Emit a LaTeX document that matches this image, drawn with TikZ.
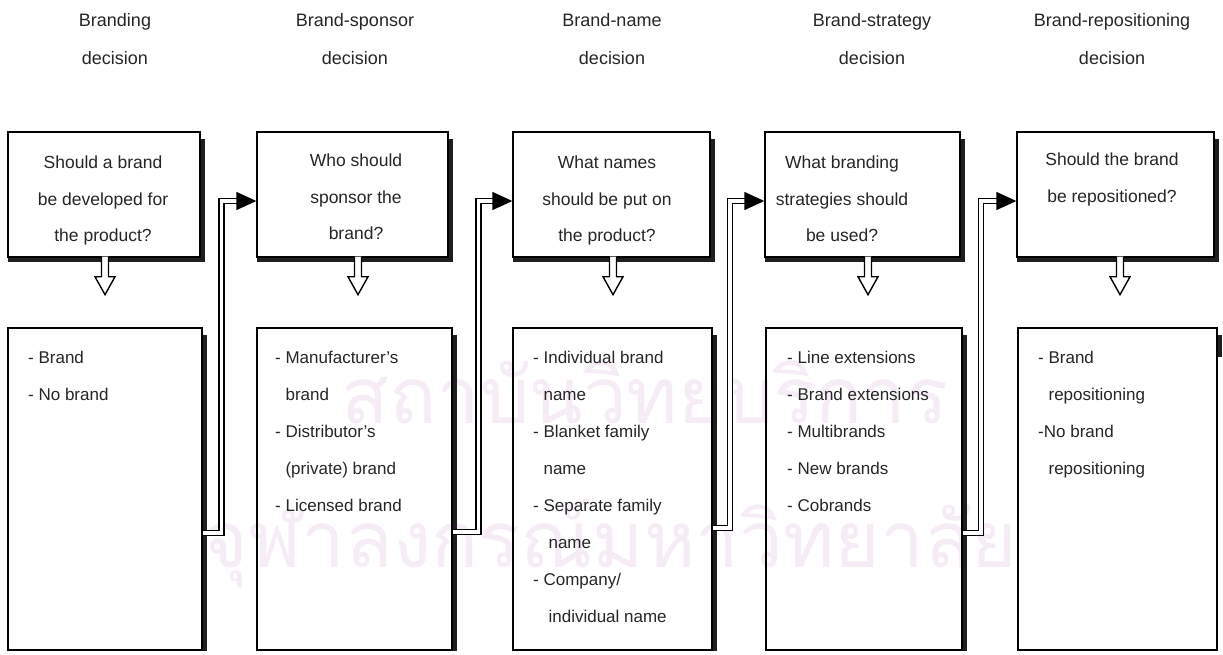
\documentclass[tikz,border=0pt]{standalone}
\usepackage{fontspec}
\setmainfont{Liberation Sans}
\newfontfamily\thaiwm[Script=Thai]{Loma}
\usetikzlibrary{calc,arrows.meta}
\definecolor{ink}{gray}{0.15}
\definecolor{wmark}{RGB}{245,236,245}
\begin{document}
\begin{tikzpicture}[x=1pt,y=-1pt,
  qbox/.style={draw=black,line width=1.4pt,fill=white,inner sep=0pt,rectangle},
  abox/.style={draw=black,line width=1.4pt,inner sep=0pt,rectangle},
  head/.style={font=\fontsize{18}{38}\selectfont,text=ink,align=center,inner sep=0pt,anchor=north},
  qtext/.style={font=\fontsize{17.5}{36.5}\selectfont,text=ink,align=center,inner sep=0pt,anchor=north},
  ltext/.style={font=\fontsize{17}{37}\selectfont,text=ink,align=left,inner sep=0pt,anchor=north west},
  shadow/.style={fill=black!88},
  hollow/.style={draw=black,line width=1.4pt,fill=white,line join=miter},
  link/.style={draw=black,line width=1.5pt,double=white,double distance=3.5pt},
  tip/.style={draw=black,line width=1.5pt,-{Triangle[length=20pt,width=18pt]}}]
\useasboundingbox (0,0) rectangle (1223,655);
\fill[white] (0,0) rectangle (1223,655);

% faint background lettering
\node[text=wmark,font=\thaiwm\fontsize{78}{80}\selectfont,inner sep=0pt] (wm1) at (645,392) {สถาบันวิทยบริการ};
\node[text=wmark,font=\thaiwm\fontsize{78}{80}\selectfont,inner sep=0pt] (wm2) at (610,543) {จุฬาลงกรณ์มหาวิทยาลัย};

% column headings
\node[head] (h1) at (115,13) {Branding\\decision};
\node[head] (h2) at (355,13) {Brand-sponsor\\decision};
\node[head] (h3) at (612,13) {Brand-name\\decision};
\node[head] (h4) at (872,13) {Brand-strategy\\decision};
\node[head] (h5) at (1112,13) {Brand-repositioning\\decision};

% question boxes
\node[qbox,minimum width=192pt,minimum height=125pt] (q1) at (104,194.5) {};
\node[qbox,minimum width=191pt,minimum height=125pt] (q2) at (352.5,194.5) {};
\node[qbox,minimum width=197pt,minimum height=125pt] (q3) at (611.5,194.5) {};
\node[qbox,minimum width=195pt,minimum height=125pt] (q4) at (862.5,194.5) {};
\node[qbox,minimum width=197pt,minimum height=125pt] (q5) at (1115.5,194.5) {};
\foreach \q in {q1,q2,q3,q4,q5}{
  \fill[shadow] ($(\q.north east)+(0,8)$) rectangle ($(\q.south east)+(4,4)$);
  \fill[shadow] ($(\q.south west)+(1,0)$) rectangle ($(\q.south east)+(4,4)$);
}

% answer boxes
\node[abox,minimum width=194pt,minimum height=322pt] (b1) at (105,489) {};
\node[abox,minimum width=195pt,minimum height=322pt] (b2) at (354.5,489) {};
\node[abox,minimum width=199pt,minimum height=322pt] (b3) at (612.5,489) {};
\node[abox,minimum width=196pt,minimum height=322pt] (b4) at (864,489) {};
\node[abox,minimum width=199pt,minimum height=322pt] (b5) at (1117.5,489) {};
\foreach \b in {b1,b2,b3,b4}{
  \fill[shadow] ($(\b.north east)+(0,8)$) rectangle ($(\b.south east)+(4,0)$);
}
\fill[shadow] ($(b5.north east)+(0,8)$) rectangle ($(b5.north east)+(4,30)$);

% questions
\node[qtext] (t1) at (103,156) {Should a brand\\be developed for\\the product?};
\node[qtext] (t2) at (356,154) {Who should\\sponsor the\\brand?};
\node[qtext] (t3) at (607,156) {What names\\should be put on\\the product?};
\node[qtext] (t4) at (842,156) {What branding\\strategies should\\be used?};
\node[qtext] (t5) at (1112,153) {Should the brand\\be repositioned?};

% answers
\node[ltext] (l1) at (28,351) {- Brand\\- No brand};
\node[ltext] (l2) at (275,351) {- Manufacturer's\\\phantom{- }brand\\- Distributor's\\\phantom{- }(private) brand\\- Licensed brand};
\node[ltext] (l3) at (533,351) {- Individual brand\\\phantom{- }name\\- Blanket family\\\phantom{- }name\\- Separate family\\\phantom{- }\hspace{5pt}name\\- Company/\\\phantom{- }\hspace{5pt}individual name};
\node[ltext] (l4) at (787,351) {- Line extensions\\- Brand extensions\\- Multibrands\\- New brands\\- Cobrands};
\node[ltext] (l5) at (1038,351) {- Brand\\\phantom{- }repositioning\\-No brand\\\phantom{- }repositioning};

% hollow arrows from each question down to its answers
\foreach \q/\x in {q1/105,q2/358,q3/613,q4/868,q5/1120}{
  \draw[hollow] (\q.south -| \x,0) ++(-3.5,-1) -- ++(0,20) -- ++(-6.5,0)
     -- ++(10,18) -- ++(10,-18) -- ++(-6.5,0) -- ++(0,-20);
}

% links from each answer box to the next question
\draw[link] (b1.east |- 0,533) -| (221.5,201) -- ($(q2.west |- 0,201)+(-16,0)$);
\draw[tip] ($(q2.west |- 0,201)+(-18,0)$) -- (q2.west |- 0,201);
\draw[link] (b2.east |- 0,532) -| (478.5,201) -- ($(q3.west |- 0,201)+(-16,0)$);
\draw[tip] ($(q3.west |- 0,201)+(-18,0)$) -- (q3.west |- 0,201);
\draw[link] (b3.east |- 0,528) -| (730,201) -- ($(q4.west |- 0,201)+(-16,0)$);
\draw[tip] ($(q4.west |- 0,201)+(-18,0)$) -- (q4.west |- 0,201);
\draw[link] (b4.east |- 0,533) -| (981,201) -- ($(q5.west |- 0,201)+(-16,0)$);
\draw[tip] ($(q5.west |- 0,201)+(-18,0)$) -- (q5.west |- 0,201);
\end{tikzpicture}
\end{document}
